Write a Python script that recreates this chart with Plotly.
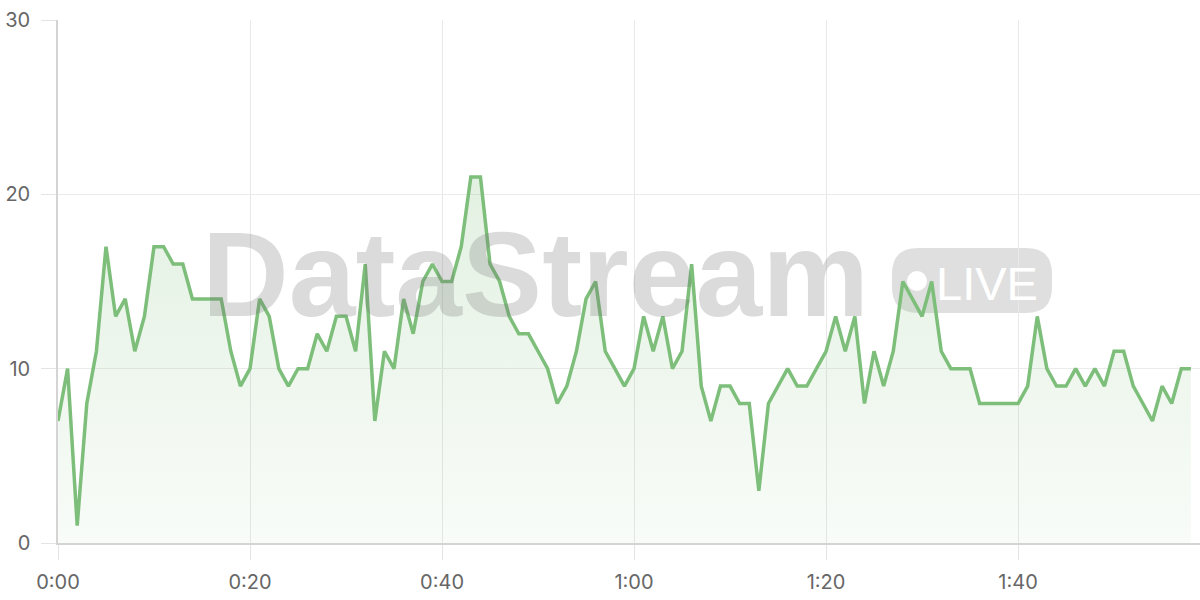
import plotly.graph_objects as go

# ---- data ----
minutes = list(range(119))
values = [7, 10, 1, 8, 11, 17, 13, 14, 11, 13,
          17, 17, 16, 16, 14, 14, 14, 14, 11, 9,
          10, 14, 13, 10, 9, 10, 10, 12, 11, 13,
          13, 11, 16, 7, 11, 10, 14, 12, 15, 16,
          15, 15, 17, 21, 21, 16, 15, 13, 12, 12,
          11, 10, 8, 9, 11, 14, 15, 11, 10, 9,
          10, 13, 11, 13, 10, 11, 16, 9, 7, 9,
          9, 8, 8, 3, 8, 9, 10, 9, 9, 10,
          11, 13, 11, 13, 8, 11, 9, 11, 15, 14,
          13, 15, 11, 10, 10, 10, 8, 8, 8, 8,
          8, 9, 13, 10, 9, 9, 10, 9, 10, 9,
          11, 11, 9, 8, 7, 9, 8, 10, 10]
x_tick_vals = [0, 20, 40, 60, 80, 100]
x_tick_text = ["0:00", "0:20", "0:40", "1:00", "1:20", "1:40"]
y_tick_vals = [0, 10, 20, 30]
watermark_title = "DataStream"
watermark_badge = "LIVE"

LINE = "#7dbe7a"
FONT = "Inter, 'Liberation Sans', sans-serif"

fig = go.Figure()
fig.add_trace(go.Scatter(
    x=minutes, y=values, mode="lines",
    line=dict(color=LINE, width=3.5),
    fill="tozeroy",
    fillgradient=dict(type="vertical", start=0, stop=21,
                      colorscale=[[0, "rgba(125,190,122,0.05)"],
                                  [1, "rgba(125,190,122,0.22)"]]),
    hoverinfo="skip", showlegend=False,
))

W, L, T, H = 1142, 58, 20, 523
def px(x): return (x - L) / W
def py(y): return (543 - y) / H

# badge rounded rect
x0, x1, y0, y1 = px(892), px(1052), py(313), py(248)
rx, ry = 26 / W, 26 / H
path = (f"M {x0+rx},{y0} L {x1-rx},{y0} Q {x1},{y0} {x1},{y0+ry} "
        f"L {x1},{y1-ry} Q {x1},{y1} {x1-rx},{y1} L {x0+rx},{y1} "
        f"Q {x0},{y1} {x0},{y1-ry} L {x0},{y0+ry} Q {x0},{y0} {x0+rx},{y0} Z")
fig.add_shape(type="path", path=path, xref="paper", yref="paper",
              fillcolor="rgba(120,120,120,0.24)", line=dict(width=0), layer="between")
fig.add_shape(type="circle", xref="paper", yref="paper",
              x0=px(907), x1=px(927), y0=py(291), y1=py(271),
              fillcolor="white", line=dict(width=0), layer="between")

fig.add_annotation(text=f"<b>{watermark_title}</b>", xref="paper", yref="paper",
                   x=px(535), y=py(274), xanchor="center", yanchor="middle",
                   showarrow=False,
                   font=dict(family="'Liberation Sans', Arial, sans-serif", size=120,
                             color="rgba(110,110,110,0.25)"))
fig.add_annotation(text=watermark_badge, xref="paper", yref="paper",
                   x=px(987), y=py(283), xanchor="center", yanchor="middle",
                   showarrow=False,
                   font=dict(family="'Liberation Sans', Arial, sans-serif", size=47,
                             color="white"))

fig.update_layout(
    width=1200, height=600,
    margin=dict(l=L, r=0, t=T, b=57),
    paper_bgcolor="white", plot_bgcolor="white",
    font=dict(family=FONT, size=19, color="#666666"),
)
fig.update_xaxes(
    range=[0, 118.95], tickvals=x_tick_vals, ticktext=x_tick_text,
    showgrid=True, gridcolor="#e8e8e8", gridwidth=1,
    ticks="outside", ticklen=15, tickcolor="#e4e4e4", tickwidth=1,
    ticklabelstandoff=5, automargin=False,
    showline=True, linecolor="#d4d4d4", linewidth=1.5,
    zeroline=False, tickfont=dict(size=20, color="#666666"),
)
fig.update_yaxes(
    range=[0, 30], tickvals=y_tick_vals,
    showgrid=True, gridcolor="#ebebeb", gridwidth=1,
    ticks="outside", ticklen=15, tickcolor="#e4e4e4", tickwidth=1,
    ticklabelstandoff=7, automargin=False,
    showline=True, linecolor="#d4d4d4", linewidth=1.5,
    zeroline=False, tickfont=dict(size=20, color="#666666"),
)

fig.write_html("out.html", config={"displayModeBar": False},
               post_script="document.body.style.margin='0';document.body.style.overflow='hidden';")
